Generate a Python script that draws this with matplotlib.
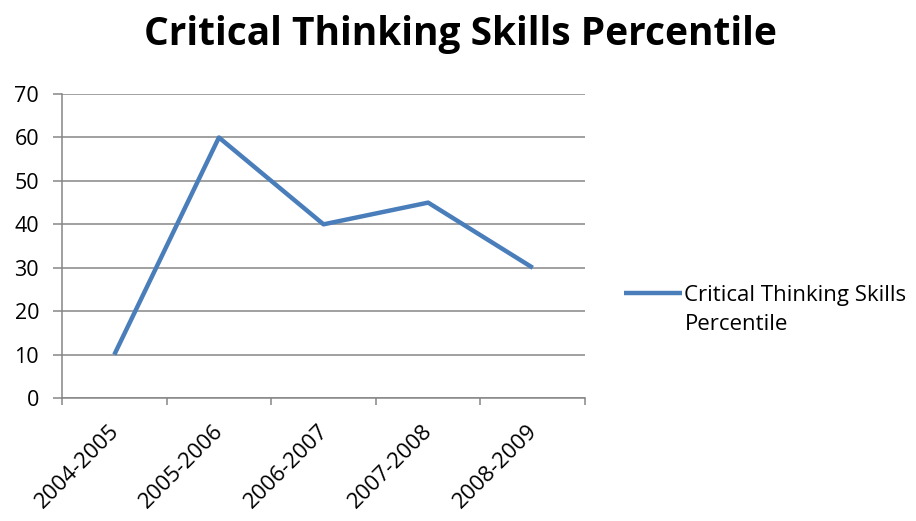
import matplotlib
matplotlib.use("Agg")
import matplotlib.pyplot as plt
from matplotlib.legend_handler import HandlerLine2D
from matplotlib.transforms import ScaledTranslation

plt.rcParams['font.family'] = ['Open Sans', 'DejaVu Sans']

years = ["2004-2005", "2005-2006", "2006-2007", "2007-2008", "2008-2009"]
percentile = [10, 60, 40, 45, 30]
y_ticks = [0, 10, 20, 30, 40, 50, 60, 70]
series_name = "Critical Thinking Skills\nPercentile"

axis_grey = "#868686"
line_blue = "#4A7EBB"


# legend handle sits next to the first text line, not in the middle of the block
class TopLineHandler(HandlerLine2D):
    def create_artists(self, legend, orig_handle, xdescent, ydescent, width, height, fontsize, trans):
        artists = super().create_artists(legend, orig_handle, xdescent, ydescent,
                                          width, height, fontsize, trans)
        for a in artists:
            a.set_ydata([y + 0.78 * fontsize for y in a.get_ydata()])
        return artists


fig = plt.figure(figsize=(9.16, 5.21), dpi=100)
ax = fig.add_axes([0.0677, 0.236, 0.571, 0.5835])

x = list(range(len(years)))
line, = ax.plot(x, percentile, color=line_blue, linewidth=3.2, solid_capstyle="butt")

ax.set_xlim(-0.5, len(years) - 0.5)
ax.set_ylim(0, 70)
ax.set_yticks(y_ticks)
ax.set_yticklabels([str(v) for v in y_ticks], fontsize=15.5)
ax.yaxis.grid(True, color=axis_grey, linewidth=1.1)
ax.set_axisbelow(True)

# category boundaries get the tick marks, labels sit in the middle
ax.set_xticks([i - 0.5 for i in range(len(years) + 1)])
ax.set_xticklabels([])
ax.set_xticks(x, minor=True)
ax.set_xticklabels(years, minor=True, rotation=45, ha="right", va="top",
                   rotation_mode="anchor", fontsize=16)
ax.tick_params(axis="x", which="minor", length=0, pad=16)
ax.tick_params(axis="x", which="major", length=5, width=1.1, color=axis_grey, direction="out")
ax.tick_params(axis="y", length=6.5, width=1.1, color=axis_grey, direction="out", pad=10)
shift = ScaledTranslation(-6 / 100, 0, fig.dpi_scale_trans)
for lbl in ax.get_xticklabels(minor=True):
    lbl.set_transform(lbl.get_transform() + shift)

for side in ["top", "right"]:
    ax.spines[side].set_visible(False)
for side in ["left", "bottom"]:
    ax.spines[side].set_color(axis_grey)
    ax.spines[side].set_linewidth(1.1)

fig.text(0.503, 0.933, "Critical Thinking Skills Percentile", ha="center", va="center",
         fontsize=28, fontweight="bold")

leg = fig.legend([line], [series_name], loc="center left", bbox_to_anchor=(0.672, 0.405),
                 frameon=False, fontsize=16, handlelength=2.6, handletextpad=0.1,
                 borderaxespad=0, handler_map={line: TopLineHandler()})
for t in leg.get_texts():
    t.set_linespacing(1.55)

fig.savefig("out.png", dpi=100, facecolor="white")
